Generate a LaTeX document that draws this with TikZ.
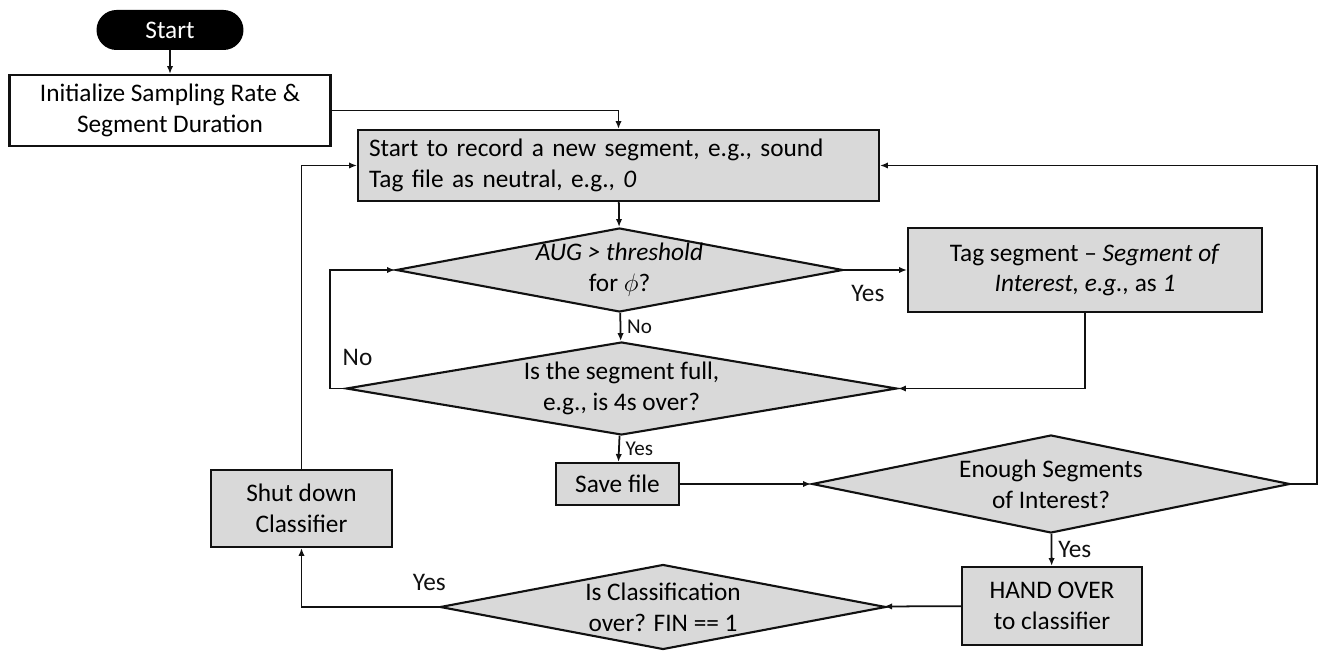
\documentclass[tikz,border=0pt]{standalone}
\usepackage{fontspec}
\setmainfont{Carlito}
\usetikzlibrary{arrows.meta,shapes.geometric}
\definecolor{boxgray}{HTML}{D9D9D9}
\definecolor{ink}{HTML}{111111}

\begin{document}
\begin{tikzpicture}[x=0.02cm,y=-0.02cm,>={Latex[length=4.5pt,width=3.6pt]},
  font=\fontsize{14.4}{17.6}\selectfont,
  proc/.style={draw=ink,line width=1.2pt,fill=boxgray,align=center,inner sep=0pt},
  decision/.style={diamond,draw=ink,line width=1.2pt,fill=boxgray,inner sep=0pt},
  dtext/.style={align=center},
  arr/.style={->,line width=1pt,ink},
  small/.style={font=\fontsize{12}{14}\selectfont}]
  \useasboundingbox (0,0) rectangle (1327,661);

  \node[fill=black,text=white,rounded corners=0.4cm,minimum width=2.94cm,
    minimum height=0.8cm,inner sep=0pt] (start) at (170,30) {Start};
  \node[proc,fill=white,minimum width=6.42cm,minimum height=1.42cm] (init)
    at (170,110.5) {Initialize Sampling Rate \&\\Segment Duration};
  \node[proc,minimum width=10.42cm,minimum height=1.42cm,text width=9.98cm,
    align=left] (rec) at (618.5,165.5)
    {Start to record a new segment, e.g., sound\\Tag file as neutral, e.g., \textit{0}};

  \node[decision,aspect=5.32,minimum width=8.94cm,minimum height=1.68cm,
    label={[dtext]center:\textit{AUG > threshold}\\for $\phi$?}] (aug) at (619.5,270) {};
  \node[proc,minimum width=7.08cm,minimum height=1.68cm] (tag) at (1085,270)
    {Tag segment -- \textit{Segment of}\\\textit{Interest, e.g.,} as \textit{1}};
  \node[decision,aspect=5.92,minimum width=11.02cm,minimum height=1.86cm,
    label={[dtext]center:Is the segment full,\\e.g., is 4s over?}] (full) at (621.5,388.5) {};
  \node[proc,minimum width=2.46cm,minimum height=0.84cm] (save) at (617.5,484) {Save file};
  \node[decision,aspect=4.88,minimum width=9.56cm,minimum height=1.96cm,
    label={[dtext]center:Enough Segments\\of Interest?}] (enough) at (1051,484) {};
  \node[proc,minimum width=3.6cm,minimum height=1.56cm] (hand) at (1052,606)
    {HAND OVER\\to classifier};
  \node[decision,aspect=5.25,minimum width=8.92cm,minimum height=1.7cm,
    label={[dtext]center:Is Classification\\over? FIN == 1}] (fin) at (663,607) {};
  \node[proc,minimum width=3.62cm,minimum height=1.54cm] (shut) at (301.5,508.5)
    {Shut down\\Classifier};

  \draw[arr] (start) -- (init);
  \draw[arr] (init.east) -| (rec.north);
  \draw[arr] (rec) -- (aug);
  \draw[arr] (aug.east) -- node[pos=0.38,below,yshift=-0.18cm] {Yes} (tag.west);
  \draw[arr] (aug) -- node[right,small] {No} (full);
  \draw[arr] (tag.south) |- (full.east);
  \draw[arr] (full.west) -- ++(-15,0) |- node[pos=0.13,right,xshift=0.12cm] {No} (aug.west);
  \draw[arr] (full) -- node[right,small] {Yes} (save);
  \draw[arr] (save) -- (enough);
  \draw[arr] (enough.east) -- ++(26,0) |- (rec.east);
  \draw[arr] (enough) -- node[right] {Yes} (hand);
  \draw[arr] (hand) -- (fin);
  \draw[arr] (fin.west) -| node[pos=0.035,above,yshift=0.2cm] {Yes} (shut.south);
  \draw[arr] (shut.north) |- (rec.west);
\end{tikzpicture}
\end{document}
